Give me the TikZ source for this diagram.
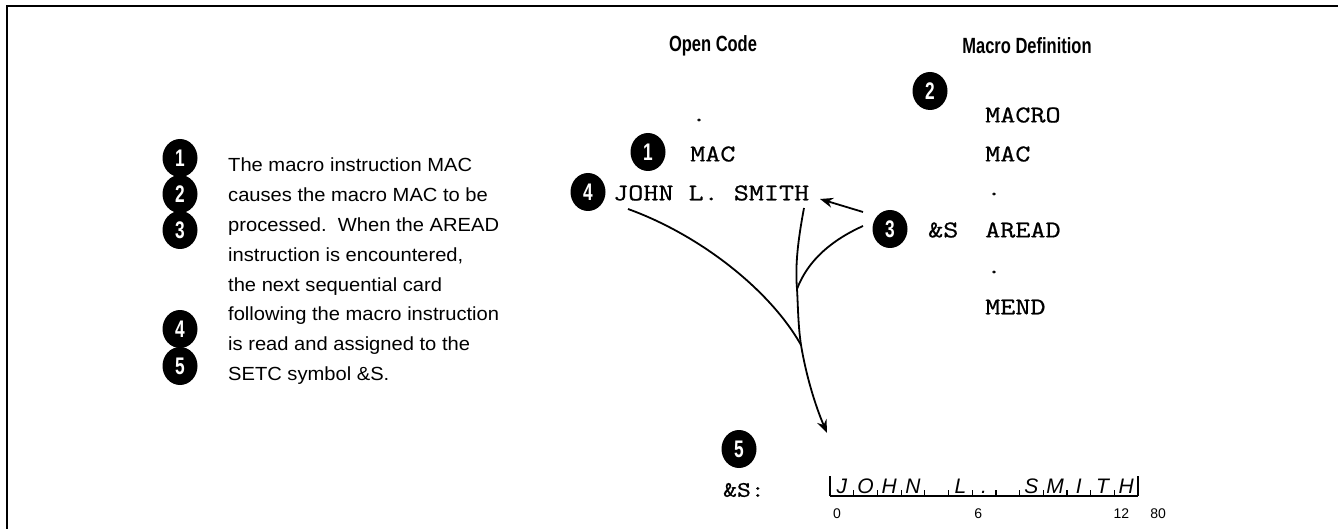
\documentclass[tikz,border=0pt]{standalone}
\usepackage{fontspec}
\setmainfont{Liberation Sans}
\newfontfamily\notefont[FakeStretch=1.06]{Liberation Sans}
\newfontfamily\headfont[FakeStretch=0.75]{Liberation Sans}
\newfontfamily\badgefont[FakeStretch=0.72]{Liberation Sans}
\newfontfamily\codefont[FakeStretch=1.22,FakeBold=0.8]{Latin Modern Mono}
\usetikzlibrary{shapes.geometric,arrows.meta}

\begin{document}
\begin{tikzpicture}[x=1pt,y=-1pt,
  badge/.style={ellipse,fill=black,minimum width=35pt,minimum height=38pt,
    inner sep=0pt,text=white,font=\badgefont\bfseries\fontsize{24}{24}\selectfont},
  code/.style={anchor=west,inner sep=0pt,font=\codefont\fontsize{24}{26}\selectfont},
  codedot/.style={inner sep=0pt,font=\codefont\fontsize{24}{26}\selectfont},
  head/.style={inner sep=0pt,font=\headfont\bfseries\fontsize{22}{24}\selectfont},
  note/.style={anchor=north west,inner sep=0pt,align=left,
    font=\notefont\fontsize{19}{29.8}\selectfont},
  conn/.style={line width=1.8pt},
  tip/.style={-{Stealth[length=13pt,width=10pt]}},
  cardch/.style={anchor=base,inner sep=0pt,font=\itshape\fontsize{21}{24}\selectfont},
  colnum/.style={anchor=base,inner sep=0pt,font=\fontsize{14}{16}\selectfont},
]
\useasboundingbox (0,0) rectangle (1338,529);

% page frame (top and left rules)
\draw[line width=2.5pt] (1338,6) -- (7,6) -- (7,529);

% explanatory note with its step markers
\node[note] (txt) at (228,158) {The macro instruction MAC\\
causes the macro MAC to be\\
processed.\ \ When the AREAD\\
instruction is encountered,\\
the next sequential card\\
following the macro instruction\\
is read and assigned to the\\
SETC symbol \&S.};
\node[badge] (n1) at (180,158) {1};
\node[badge] (n2) at (180,194) {2};
\node[badge] (n3) at (180,230) {3};
\node[badge] (n4) at (180,329) {4};
\node[badge] (n5) at (180,366) {5};

% column headings
\node[head] (hopen) at (713,46) {Open Code};
\node[head] (hdef) at (1027,46) {Macro Definition};

% open code
\node[codedot] (odot) at (699,120) {.};
\node[badge] (b1) at (648,152) {1};
\node[code] (omac) at (690,154) {MAC};
\node[badge] (b4) at (588,192) {4};
\node[code] (john) at (613,193) {JOHN L. SMITH};

% macro definition
\node[badge] (b2) at (930,91) {2};
\node[code] (dmacro) at (985,115) {MACRO};
\node[code] (dmac) at (985,154) {MAC};
\node[codedot] (ddot1) at (994,194) {.};
\node[badge] (b3) at (890,229) {3};
\node[code] (amps) at (928,230) {\&S};
\node[code] (aread) at (985,230) {AREAD};
\node[codedot] (ddot2) at (994,272) {.};
\node[code] (mend) at (985,307) {MEND};

% result: the SETC symbol and its card image
\node[badge] (b5) at (739,449) {5};
\node[code,font=\codefont\fontsize{22}{24}\selectfont] (sres) at (723,490) {\&S:};

\coordinate (c0) at (830,496);
\coordinate (c13) at ({830+13*23.7},496);
\draw[line width=1.4pt] (c0) -- (c13);
\draw[line width=1.4pt] (c0) -- ++(0,-20);
\draw[line width=1.4pt] (c13) -- ++(0,-20);
\foreach \i in {1,...,12}
  \draw[line width=1.2pt] ({830+\i*23.7},496) -- ++(0,-6);
\foreach \ch [count=\i from 0] in {J,O,H,N,{},L,.,{},S,M,I,T,H}
  \node[cardch] (r\i) at ({830+(\i+0.5)*23.7},493) {\ch};
\node[colnum] (k0) at (837,518) {0};
\node[colnum] (k6) at ({830+6*23.7+6},518) {6};
\node[colnum] (k12) at ({830+12*23.7+7},518) {12};
\node[colnum] (k80) at ({830+13*23.7+20},518) {80};

% flow of the card into &S
\coordinate (jstart) at (628,209);
\coordinate (hstart) at (804,208);
\coordinate (cstart) at (863,226);
\coordinate (jn1) at (797,289);
\coordinate (jn2) at (801,345);
\coordinate (tipend) at (827,433);
\coordinate (astart) at (863,212);
\coordinate (aend) at (820,199);

\draw[conn,tip] (astart) -- (aend);
\draw[conn] (jstart) .. controls (700,235) and (770,290) .. (jn2);
\draw[conn] (cstart) .. controls (832,240) and (808,260) .. (jn1);
\draw[conn] (hstart) .. controls (798,240) and (795,265) .. (jn1)
  .. controls (798,305) and (798,325) .. (jn2);
\draw[conn,tip] (jn2) .. controls (806,375) and (815,405) .. (tipend);
\end{tikzpicture}
\end{document}
